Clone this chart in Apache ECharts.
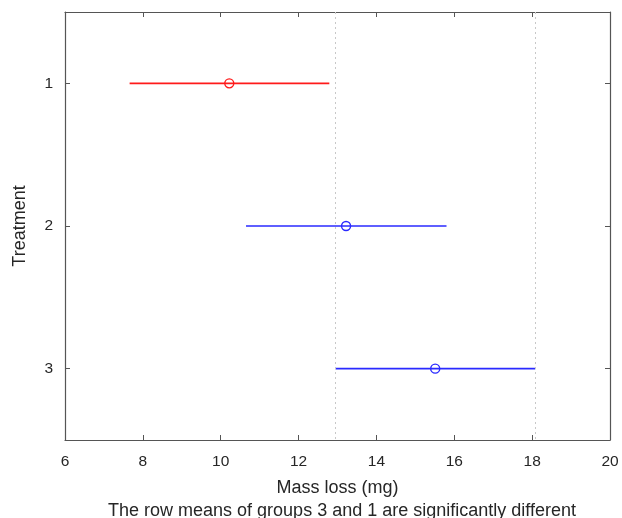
<!DOCTYPE html>
<html>
<head>
<meta charset="utf-8">
<script src="https://cdn.jsdelivr.net/npm/echarts@6/dist/echarts.min.js"></script>
<style>
  html, body { margin: 0; padding: 0; background: #fff; }
  #chart { width: 622px; height: 518px; }
</style>
</head>
<body>
<div id="chart"></div>
<script>
// Group comparison intervals (Mass loss, mg)
const groups = [1, 2, 3];
const groupMeans = [10.22, 13.22, 15.51];
const lowerBounds = [7.66, 10.65, 12.95];
const upperBounds = [12.79, 15.80, 18.08];
const groupColors = ['#ff1a1a', '#2a2aff', '#2a2aff'];
const xTicks = [6, 8, 10, 12, 14, 16, 18, 20];
const selectedGroup = 3;

const font = 'Liberation Sans, Arial, sans-serif';
const axisGray = '#555';
const textColor = '#262626';

const data = groups.map((g, i) => ({
  value: [lowerBounds[i], upperBounds[i], groupMeans[i], g],
  itemStyle: { color: groupColors[i] }
}));

const sel = selectedGroup - 1;

const chart = echarts.init(document.getElementById('chart'), null, { renderer: 'canvas' });

const xBase = {
  type: 'value', min: xTicks[0], max: xTicks[xTicks.length - 1], interval: 2,
  axisLine: { show: true, onZero: false, lineStyle: { color: axisGray, width: 1.2 } },
  axisTick: { show: true, inside: true, length: 5, lineStyle: { color: axisGray } },
  splitLine: { show: false }
};
const yBase = {
  type: 'value', min: 0.5, max: 3.5, inverse: true,
  axisLine: { show: true, onZero: false, lineStyle: { color: axisGray, width: 1.2 } },
  axisTick: { show: true, inside: true, length: 5, customValues: groups, lineStyle: { color: axisGray } },
  splitLine: { show: false }
};

chart.setOption({
  animation: false,
  backgroundColor: '#fff',
  grid: { left: 65, right: 12, top: 12, bottom: 78 },
  title: {
    text: 'The row means of groups ' + selectedGroup + ' and 1 are significantly different',
    left: 337, top: 497, textAlign: 'center',
    textStyle: { fontFamily: font, fontSize: 18, fontWeight: 'normal', color: textColor }
  },
  xAxis: [
    Object.assign({}, xBase, {
      position: 'bottom',
      name: 'Mass loss (mg)', nameLocation: 'middle', nameGap: 39,
      nameTextStyle: { fontFamily: font, fontSize: 18, color: textColor },
      axisLabel: { margin: 14, fontFamily: font, fontSize: 15.5, color: textColor }
    }),
    Object.assign({}, xBase, { position: 'top', axisLabel: { show: false } })
  ],
  yAxis: [
    Object.assign({}, yBase, {
      position: 'left',
      name: 'Treatment', nameLocation: 'middle', nameGap: 36, nameRotate: 90,
      nameTextStyle: { fontFamily: font, fontSize: 18, color: textColor },
      axisLabel: { margin: 12, customValues: groups, fontFamily: font, fontSize: 15.5, color: textColor }
    }),
    Object.assign({}, yBase, { position: 'right', axisLabel: { show: false } })
  ],
  series: [
    {
      type: 'custom',
      xAxisIndex: 0, yAxisIndex: 0,
      data: data,
      renderItem: function (params, api) {
        const y = api.value(3);
        const p0 = api.coord([api.value(0), y]);
        const p1 = api.coord([api.value(1), y]);
        const pm = api.coord([api.value(2), y]);
        const color = api.visual('color');
        return {
          type: 'group',
          children: [
            { type: 'line', shape: { x1: p0[0], y1: p0[1], x2: p1[0], y2: p1[1] },
              style: { stroke: color, lineWidth: 1.6 } },
            { type: 'circle', shape: { cx: pm[0], cy: pm[1], r: 4.5 },
              style: { fill: 'none', stroke: color, lineWidth: 1.4 } }
          ]
        };
      },
      markLine: {
        silent: true, symbol: 'none', label: { show: false },
        lineStyle: { color: '#c8c8c8', type: [2, 3], width: 1 },
        data: [ { xAxis: lowerBounds[sel] }, { xAxis: upperBounds[sel] } ]
      },
      z: 3
    }
  ]
});
</script>
</body>
</html>
